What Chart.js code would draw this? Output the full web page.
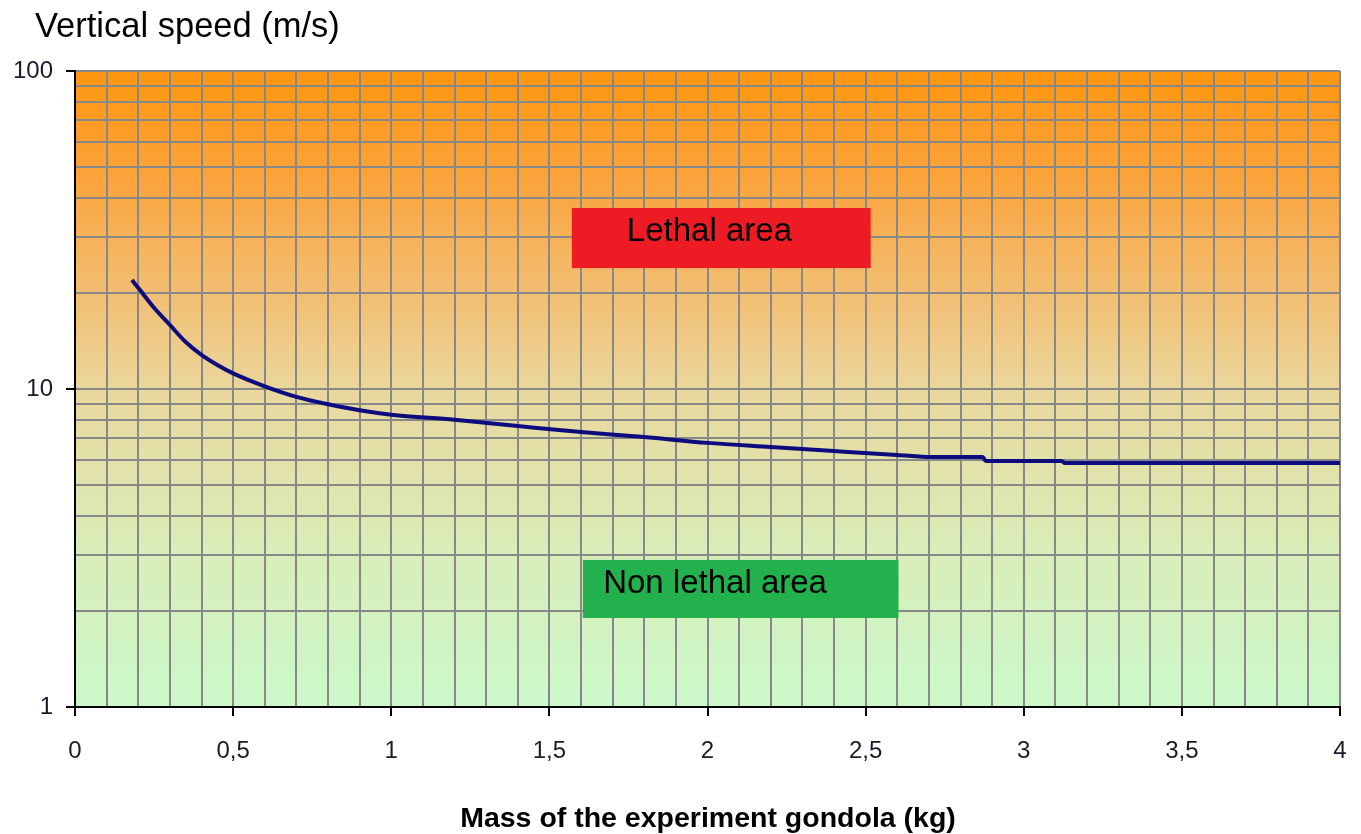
<!DOCTYPE html>
<html>
<head>
<meta charset="utf-8">
<script src="https://cdn.jsdelivr.net/npm/chart.js@4/dist/chart.umd.min.js"></script>
<style>
html,body{margin:0;padding:0;background:#fff;}
#wrap{width:1361px;height:834px;position:relative;}
</style>
</head>
<body>
<div id="wrap"><canvas id="c" width="1361" height="834"></canvas></div>
<script>
// Data
const massKg = [0.18, 0.20, 0.25, 0.30, 0.35, 0.40, 0.45, 0.50, 0.60, 0.70, 0.80, 0.90, 1.0, 1.2, 1.4, 1.6, 1.8, 2.0, 2.2, 2.4, 2.6, 2.71, 2.87, 2.88, 3.12, 3.13, 4.0];
const speedMs = [22.0, 20.8, 18.0, 15.9, 14.05, 12.8, 11.9, 11.2, 10.2, 9.45, 8.95, 8.57, 8.3, 8.0, 7.65, 7.32, 7.06, 6.77, 6.57, 6.38, 6.20, 6.11, 6.11, 5.94, 5.94, 5.85, 5.85];
const yTickValues = [1,2,3,4,5,6,7,8,9,10,20,30,40,50,60,70,80,90,100];
const yTickLabels = {1:'1', 10:'10', 100:'100'};
const xLabelled = [0, 0.5, 1, 1.5, 2, 2.5, 3, 3.5, 4];
const yTitle = 'Vertical speed (m/s)';
const xTitle = 'Mass of the experiment gondola (kg)';
const zones = [
  {label:'Lethal area', x0:1.571, x1:2.516, y0:24.0, y1:37.1, color:'#ED1C24', textX:1.745},
  {label:'Non lethal area', x0:1.606, x1:2.604, y0:1.905, y1:2.90, color:'#22B14C', textX:1.67}
];

const FONT = '"Liberation Sans", Arial, sans-serif';
const isLabelled = v => xLabelled.some(l => Math.abs(l - v) < 1e-6);

const bgPlugin = {
  id:'bg',
  beforeDraw(chart){
    const {ctx, chartArea:a} = chart;
    const g = ctx.createLinearGradient(0, a.top, 0, a.bottom);
    g.addColorStop(0, '#FF960F');
    g.addColorStop(0.15, '#FBA136');
    g.addColorStop(0.35, '#F2BE72');
    g.addColorStop(0.5, '#EAD79C');
    g.addColorStop(0.75, '#D9EDB8');
    g.addColorStop(1, '#CBF8CA');
    ctx.save();
    ctx.fillStyle = g;
    ctx.fillRect(a.left, a.top, a.right - a.left, a.bottom - a.top);
    ctx.restore();
  },
  beforeDatasetsDraw(chart){
    const {ctx, scales:{x, y}} = chart;
    ctx.save();
    zones.forEach(z => {
      const l = x.getPixelForValue(z.x0), r = x.getPixelForValue(z.x1);
      const t = y.getPixelForValue(z.y1), b = y.getPixelForValue(z.y0);
      ctx.fillStyle = z.color;
      ctx.fillRect(l, t, r - l, b - t);
      ctx.fillStyle = '#000';
      ctx.font = '33px ' + FONT;
      ctx.textBaseline = 'alphabetic';
      ctx.textAlign = 'left';
      ctx.fillText(z.label, x.getPixelForValue(z.textX), t + 33);
    });
    ctx.restore();
  },
  afterDraw(chart){
    const {ctx} = chart;
    ctx.save();
    ctx.fillStyle = '#000';
    ctx.textBaseline = 'alphabetic';
    ctx.textAlign = 'left';
    ctx.font = '34.5px ' + FONT;
    ctx.fillText(yTitle, 35, 37);
    ctx.textAlign = 'center';
    ctx.font = 'bold 28.5px ' + FONT;
    ctx.fillText(xTitle, 708, 827);
    ctx.restore();
  }
};

new Chart(document.getElementById('c'), {
  type:'line',
  data:{
    datasets:[{
      data: massKg.map((m, i) => ({x:m, y:speedMs[i]})),
      borderColor:'#0C0C7E',
      borderWidth:4,
      pointRadius:0,
      cubicInterpolationMode:'monotone',
      fill:false
    }]
  },
  options:{
    responsive:false,
    animation:false,
    layout:{padding:{left:0, right:21, top:71, bottom:0}},
    plugins:{legend:{display:false}, tooltip:{enabled:false}, title:{display:false}},
    scales:{
      x:{
        type:'linear', min:0, max:4,
        afterFit(s){ s.height = 127; s.paddingLeft = 0; s.paddingRight = 0; },
        afterBuildTicks(s){
          const t = [];
          for (let i = 0; i <= 40; i++) t.push({value: i / 10});
          s.ticks = t;
        },
        ticks:{
          autoSkip:false, maxRotation:0, padding:21,
          color:'#1a1a2a',
          font:{size:24, family:FONT},
          callback:(v) => isLabelled(v) ? String(Math.round(v * 10) / 10).replace('.', ',') : ''
        },
        grid:{
          color:'#888', lineWidth:2, tickLength:9,
          tickColor:(c) => (c.tick && isLabelled(c.tick.value)) ? '#000' : 'rgba(0,0,0,0)',
          tickWidth:2
        },
        border:{color:'#000', width:2}
      },
      y:{
        type:'logarithmic', min:1, max:100,
        afterFit(s){ s.width = 75; s.paddingTop = 0; s.paddingBottom = 0; },
        afterBuildTicks(s){ s.ticks = yTickValues.map(v => ({value:v})); },
        ticks:{
          autoSkip:false, padding:13,
          color:'#1a1a2a',
          font:{size:24, family:FONT},
          callback:(v) => yTickLabels[v] || ''
        },
        grid:{
          color:'#888', lineWidth:2, tickLength:9,
          tickColor:(c) => (c.tick && yTickLabels[c.tick.value]) ? '#000' : 'rgba(0,0,0,0)',
          tickWidth:2
        },
        border:{color:'#000', width:2}
      }
    }
  },
  plugins:[bgPlugin]
});
</script>
</body>
</html>
